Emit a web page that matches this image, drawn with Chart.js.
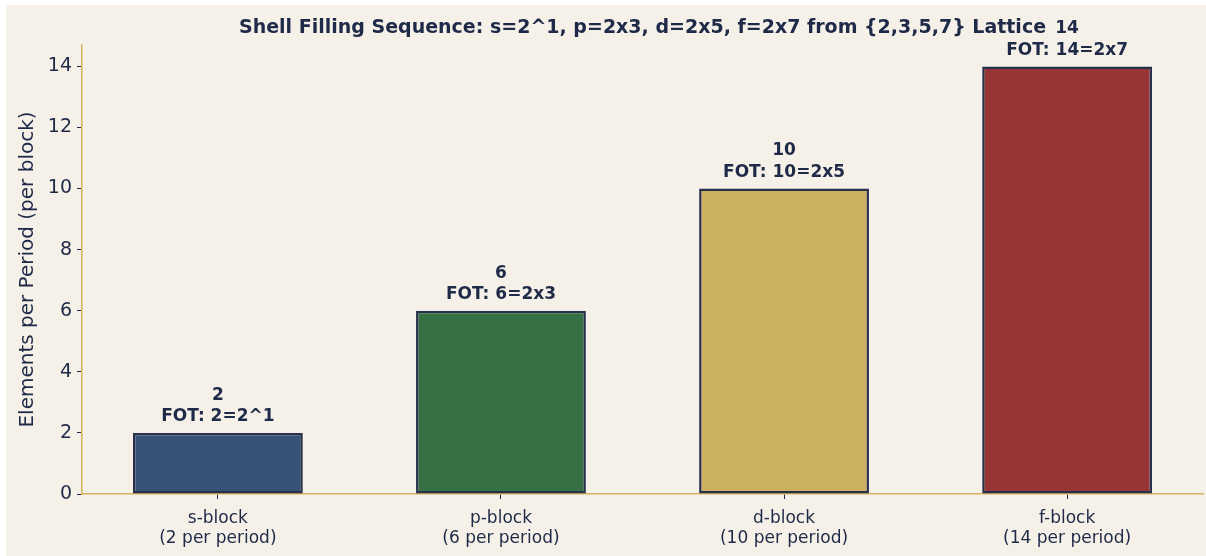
<!DOCTYPE html>
<html lang="en">
<head>
    <meta charset="UTF-8">
    <title>Shell Filling Sequence</title>
    <script src="https://cdn.jsdelivr.net/npm/chart.js"></script>
    <style>
        html, body {
            margin: 0;
            padding: 0;
            background: #ffffff;
        }
        .frame {
            position: absolute;
            left: 6px;
            top: 5px;
            width: 1200px;
            height: 551px;
            background: #f5f0e8;
        }
    </style>
</head>
<body>
    <div class="frame">
        <canvas id="shellChart" width="1200" height="551"></canvas>
    </div>
    <script>
        const blockNames = ["s-block", "p-block", "d-block", "f-block"];
        const perPeriodText = ["(2 per period)", "(6 per period)", "(10 per period)", "(14 per period)"];
        const elementsPerPeriod = [2, 6, 10, 14];
        const fotLabels = ["FOT: 2=2^1", "FOT: 6=2x3", "FOT: 10=2x5", "FOT: 14=2x7"];
        const yTicks = [0, 2, 4, 6, 8, 10, 12, 14];
        const barColors = ["#375177", "#367045", "#cbb062", "#963436"];

        const ink = "#1e2a48";
        const axisGold = "#d6b35f";
        const chartTitle = "Shell Filling Sequence: s=2^1, p=2x3, d=2x5, f=2x7 from {2,3,5,7} Lattice";

        const titlePlugin = {
            id: "centeredTitle",
            afterDraw(chart) {
                const { ctx, chartArea } = chart;
                ctx.save();
                ctx.fillStyle = ink;
                ctx.font = "bold 19px 'DejaVu Sans'";
                ctx.textAlign = "center";
                ctx.textBaseline = "middle";
                ctx.fillText(chartTitle, (chartArea.left + chartArea.right) / 2, 23);
                ctx.restore();
            }
        };

        const barLabelPlugin = {
            id: "barLabels",
            afterDatasetsDraw(chart) {
                const { ctx } = chart;
                const meta = chart.getDatasetMeta(0);
                ctx.save();
                ctx.fillStyle = ink;
                ctx.font = "bold 17px 'DejaVu Sans'";
                ctx.textAlign = "center";
                ctx.textBaseline = "middle";
                meta.data.forEach((bar, i) => {
                    ctx.fillText(String(elementsPerPeriod[i]), bar.x, bar.y - 37.5);
                    ctx.fillText(fotLabels[i], bar.x, bar.y - 16);
                });
                ctx.restore();
            }
        };

        const ctx = document.getElementById("shellChart").getContext("2d");
        new Chart(ctx, {
            type: "bar",
            data: {
                datasets: [{
                    data: elementsPerPeriod.map((v, i) => ({ x: i, y: v })),
                    backgroundColor: barColors,
                    borderColor: "#27314b",
                    borderWidth: 2.5,
                    borderSkipped: false,
                    barPercentage: 0.6,
                    categoryPercentage: 1.0,
                }],
            },
            options: {
                responsive: false,
                animation: false,
                layout: { padding: { top: 40, right: 3, left: 0, bottom: 0 } },
                plugins: {
                    legend: { display: false },
                    tooltip: { enabled: false },
                },
                scales: {
                    x: {
                        type: "linear",
                        min: -0.48,
                        max: 3.48,
                        offset: false,
                        afterFit: (scale) => { scale.height = 62; },
                        afterBuildTicks: (scale) => {
                            scale.ticks = blockNames.map((_, i) => ({ value: i }));
                        },
                        ticks: {
                            color: ink,
                            font: { family: "'DejaVu Sans'", size: 17 },
                            padding: 9,
                            maxRotation: 0,
                            autoSkip: false,
                            callback: (value) => [blockNames[value], perPeriodText[value]],
                        },
                        grid: {
                            offset: false,
                            drawOnChartArea: false,
                            drawTicks: true,
                            tickLength: 5,
                            color: ink,
                        },
                        border: { color: axisGold, width: 1.5 },
                    },
                    y: {
                        min: 0,
                        max: 14.7,
                        afterFit: (scale) => { scale.width = 76; },
                        afterBuildTicks: (scale) => {
                            scale.ticks = yTicks.map((v) => ({ value: v }));
                        },
                        title: {
                            display: true,
                            text: "Elements per Period (per block)",
                            color: ink,
                            font: { family: "'DejaVu Sans'", size: 20 },
                            padding: { top: 10, bottom: 4 },
                        },
                        ticks: {
                            color: ink,
                            font: { family: "'DejaVu Sans'", size: 19 },
                            padding: 5,
                        },
                        grid: {
                            drawOnChartArea: false,
                            drawTicks: true,
                            tickLength: 5,
                            color: ink,
                        },
                        border: { color: axisGold, width: 1.5 },
                    },
                },
            },
            plugins: [titlePlugin, barLabelPlugin],
        });
    </script>
</body>
</html>
